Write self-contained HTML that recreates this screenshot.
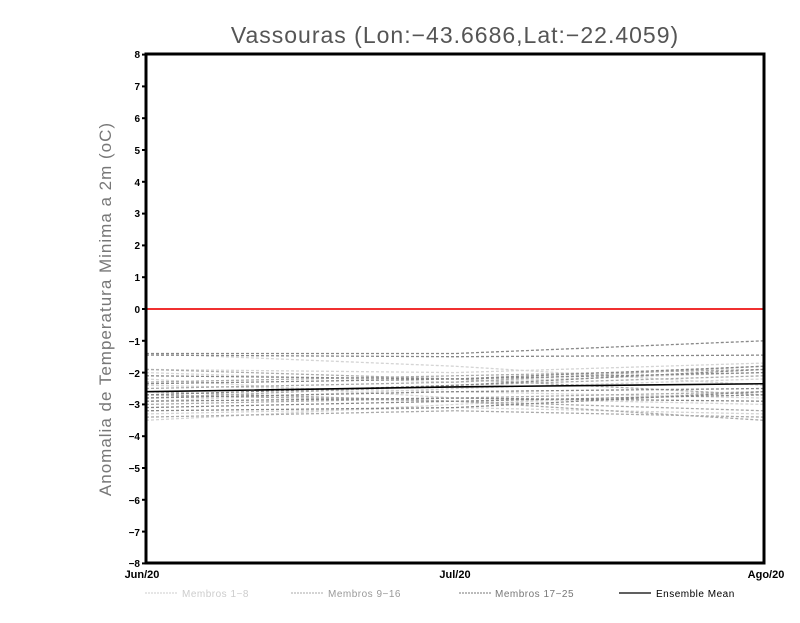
<!DOCTYPE html>
<html><head><meta charset="utf-8"><style>body{margin:0;background:#fff}</style></head><body>
<svg id="s" width="800" height="618" xmlns="http://www.w3.org/2000/svg" font-family="Liberation Sans, sans-serif">
<rect width="800" height="618" fill="#fff"/>
<text x="455" y="43" text-anchor="middle" font-size="23" fill="#555" letter-spacing="1">Vassouras (Lon:−43.6686,Lat:−22.4059)</text>
<text transform="translate(111,309) rotate(-90)" text-anchor="middle" font-size="17" fill="#777" letter-spacing="1">Anomalia de Temperatura Minima a 2m (oC)</text>
<g id="lines"></g>
<line x1="146" y1="309" x2="764" y2="309" stroke="#f03030" stroke-width="2"/>
<rect x="146" y="54" width="618" height="509" fill="none" stroke="#000" stroke-width="3"/>
<g id="ticks" font-size="10" font-weight="bold" text-anchor="end">
<text x="140" y="58">8</text><text x="140" y="90">7</text><text x="140" y="122">6</text><text x="140" y="154">5</text>
<text x="140" y="186">4</text><text x="140" y="217">3</text><text x="140" y="249">2</text><text x="140" y="281">1</text>
<text x="140" y="313">0</text><text x="140" y="345">−1</text><text x="140" y="377">−2</text><text x="140" y="408">−3</text>
<text x="140" y="440">−4</text><text x="140" y="472">−5</text><text x="140" y="504">−6</text><text x="140" y="536">−7</text>
<text x="140" y="567">−8</text>
</g>
<g font-size="11" font-weight="bold" text-anchor="middle">
<text x="142" y="578">Jun/20</text><text x="455" y="578">Jul/20</text><text x="766" y="578">Ago/20</text>
</g>
<g font-size="10" letter-spacing="0.5">
<line x1="145" y1="593" x2="177" y2="593" stroke="#ccc" stroke-dasharray="2,1"/>
<text x="182" y="597" fill="#ccc">Membros 1−8</text>
<line x1="291" y1="593" x2="323" y2="593" stroke="#aaa" stroke-dasharray="2,1"/>
<text x="328" y="597" fill="#999">Membros 9−16</text>
<line x1="459" y1="593" x2="491" y2="593" stroke="#777" stroke-dasharray="2,1"/>
<text x="495" y="597" fill="#777">Membros 17−25</text>
<line x1="619" y1="593" x2="651" y2="593" stroke="#000" stroke-width="1.2"/>
<text x="656" y="597" fill="#000">Ensemble Mean</text>
</g>
</svg>
<script>
var NS="http://www.w3.org/2000/svg",g=document.getElementById('lines'),t=document.getElementById('ticks');
function Y(v){return 309-v*31.8;}
var xs=[146,455,764];
var L=[[-1.4,-1.8,-2.4],[-2.0,-2.3,-2.0],[-3.5,-3.0,-2.6],[-2.2,-2.8,-3.0],[-3.3,-3.1,-3.3],[-1.9,-2.0,-1.7],[-2.9,-2.5,-2.2],[-2.4,-2.6,-2.8]];
var M=[[-2.5,-2.3,-1.8],[-3.0,-2.8,-2.6],[-2.7,-2.9,-3.2],[-2.3,-2.1,-1.9],[-3.4,-3.2,-3.4],[-2.8,-2.4,-2.1],[-1.9,-2.2,-2.7],[-2.6,-2.9,-3.5]];
var D=[[-1.4,-1.4,-1.0],[-1.45,-1.5,-1.45],[-2.1,-2.2,-1.8],[-2.7,-2.4,-1.9],[-3.1,-2.9,-2.7],[-2.8,-2.6,-2.5],[-3.2,-3.1,-2.6],[-2.35,-2.2,-2.0],[-2.9,-2.8,-2.9]];
function add(a,c,w,d){a.forEach(function(v){var p=document.createElementNS(NS,'polyline');
p.setAttribute('points',v.map(function(y,i){return xs[i]+','+Y(y)}).join(' '));
p.setAttribute('fill','none');p.setAttribute('stroke',c);p.setAttribute('stroke-width',w);
if(d)p.setAttribute('stroke-dasharray',d);g.appendChild(p);});}
add(L,'#d4d4d4',1.3,'3,2');add(M,'#aaa',1.3,'3,2');add(D,'#888',1.3,'3,2');
add([[-2.6,-2.45,-2.35]],'#000',1.6,null);
for(var v=-8;v<=8;v++){var l=document.createElementNS(NS,'line');l.setAttribute('x1',142);l.setAttribute('x2',146);
l.setAttribute('y1',Y(v));l.setAttribute('y2',Y(v));l.setAttribute('stroke','#000');l.setAttribute('stroke-width',2);t.appendChild(l);}
</script>
</body></html>
